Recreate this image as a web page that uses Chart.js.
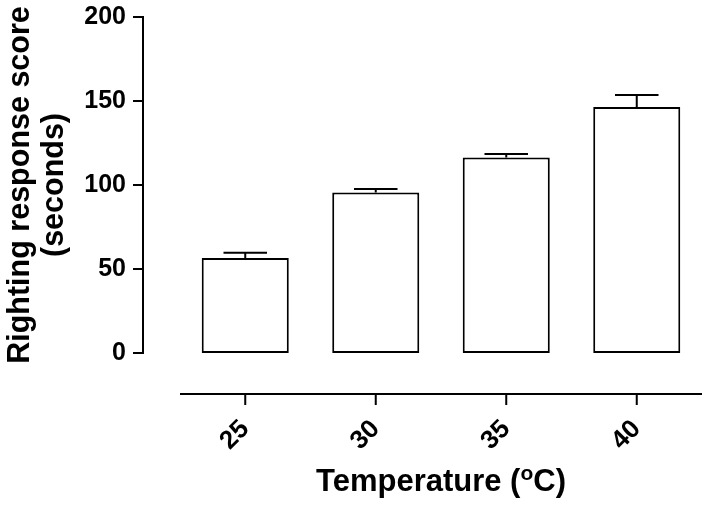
<!DOCTYPE html>
<html>
<head>
<meta charset="utf-8">
<script src="https://cdn.jsdelivr.net/npm/chart.js@4.4.0/dist/chart.umd.min.js"></script>
<style>
  body { margin: 0; background: #fff; }
  #wrap { width: 710px; height: 509px; position: relative; }
</style>
</head>
<body>
<div id="wrap"><canvas id="grafico"></canvas></div>
<script>
// dados
const temperaturas = ['25', '30', '35', '40'];
const medias = [56.5, 95.6, 116.4, 146.4];
const erros = [3.2, 2.0, 2.0, 7.2];
const yTicks = [0, 50, 100, 150, 200];

const FONTE = '"Liberation Sans", Arial, sans-serif';

// eixos deslocados (estilo Prism) + barras de erro + título do eixo x
const eixosPlugin = {
  id: 'eixos',
  afterDatasetsDraw(chart) {
    const ctx = chart.ctx;
    const x = chart.scales.x, y = chart.scales.y;
    const area = chart.chartArea;
    ctx.save();
    ctx.strokeStyle = '#000';
    ctx.lineWidth = 2;

    // barras de erro
    const meta = chart.getDatasetMeta(0);
    meta.data.forEach((bar, i) => {
      const topo = y.getPixelForValue(medias[i] + erros[i]);
      const meia = bar.width / 4;
      ctx.beginPath();
      ctx.moveTo(bar.x, bar.y);
      ctx.lineTo(bar.x, topo);
      ctx.moveTo(bar.x - meia, topo);
      ctx.lineTo(bar.x + meia, topo);
      ctx.stroke();
    });

    // eixo y
    const yx = 143;
    ctx.beginPath();
    ctx.moveTo(yx, y.getPixelForValue(0) + 1);
    ctx.lineTo(yx, y.getPixelForValue(200) - 1);
    yTicks.forEach(v => {
      const py = y.getPixelForValue(v);
      ctx.moveTo(yx - 10, py);
      ctx.lineTo(yx + 1, py);
    });
    ctx.stroke();

    // eixo x
    const xy = 394;
    ctx.beginPath();
    ctx.moveTo(area.left, xy);
    ctx.lineTo(area.right, xy);
    temperaturas.forEach((t, i) => {
      const px = x.getPixelForValue(i);
      ctx.moveTo(px, xy);
      ctx.lineTo(px, xy + 11);
    });
    ctx.stroke();

    // título do eixo x com "o" sobrescrito
    ctx.fillStyle = '#000';
    ctx.textBaseline = 'alphabetic';
    const grande = 'bold 31px ' + FONTE;
    const pequeno = 'bold 21px ' + FONTE;
    const p1 = 'Temperature (', p2 = 'o', p3 = 'C)';
    ctx.font = grande;
    const w1 = ctx.measureText(p1).width, w3 = ctx.measureText(p3).width;
    ctx.font = pequeno;
    const w2 = ctx.measureText(p2).width;
    let tx = (area.left + area.right) / 2 - (w1 + w2 + w3) / 2;
    const base = 491;
    ctx.textAlign = 'left';
    ctx.font = grande;
    ctx.fillText(p1, tx, base);
    tx += w1;
    ctx.font = pequeno;
    ctx.fillText(p2, tx, base - 11);
    tx += w2;
    ctx.font = grande;
    ctx.fillText(p3, tx, base);
    ctx.restore();
  }
};

const ctxBarras = document.getElementById('grafico');
new Chart(ctxBarras, {
  type: 'bar',
  data: {
    labels: temperaturas,
    datasets: [{
      label: 'Righting response score',
      data: medias,
      backgroundColor: '#fff',
      borderColor: '#000',
      borderWidth: 2,
      borderSkipped: false,
      barPercentage: 0.667,
      categoryPercentage: 1
    }]
  },
  options: {
    responsive: true,
    maintainAspectRatio: false,
    animation: false,
    layout: { padding: { top: 17, right: 8, left: 0, bottom: 0 } },
    plugins: { legend: { display: false }, tooltip: { enabled: false } },
    scales: {
      x: {
        grid: { display: false, drawTicks: false },
        border: { display: false },
        ticks: {
          color: '#000',
          font: { family: FONTE, size: 26, weight: 'bold' },
          maxRotation: 45,
          minRotation: 45,
          padding: 61
        },
        afterFit: s => { s.height = 156; s.paddingLeft = 0; s.paddingRight = 0; }
      },
      y: {
        min: 0,
        max: 200,
        grid: { display: false, drawTicks: false },
        border: { display: false },
        ticks: {
          stepSize: 50,
          color: '#000',
          font: { family: FONTE, size: 25, weight: 'bold' },
          padding: 54
        },
        title: {
          display: true,
          text: ['Righting response score', '(seconds)'],
          color: '#000',
          font: { family: FONTE, size: 30.5, weight: 'bold', lineHeight: 1.1 },
          padding: { top: 4, bottom: 0 }
        },
        afterFit: s => { s.width = 180; s.paddingTop = 0; s.paddingBottom = 0; }
      }
    }
  },
  plugins: [eixosPlugin]
});
</script>
</body>
</html>
